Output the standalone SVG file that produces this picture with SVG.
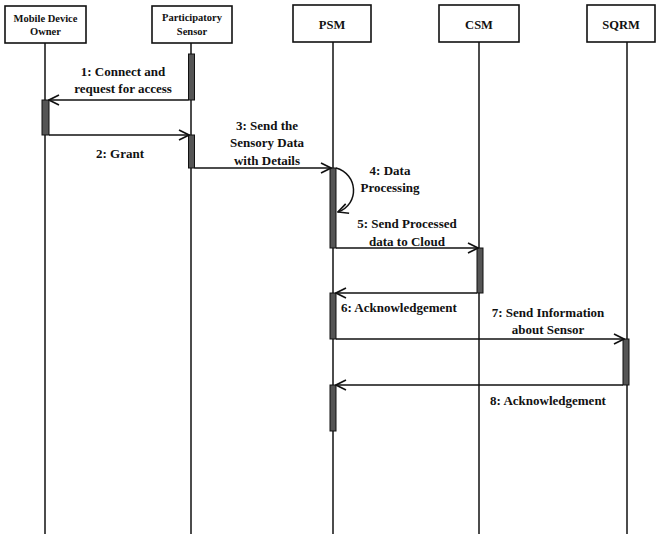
<svg xmlns="http://www.w3.org/2000/svg" width="658" height="534" viewBox="0 0 658 534">
  <defs>
    <marker id="open" viewBox="0 0 12 12" refX="11" refY="6" markerWidth="12" markerHeight="12" markerUnits="userSpaceOnUse" orient="auto">
      <path d="M1,1 L11,6 L1,11" fill="none" stroke="#111" stroke-width="1.6"/>
    </marker>
  </defs>
  <style>
    .box { fill: #fff; stroke: #111; stroke-width: 1.6; }
    .life { stroke: #111; stroke-width: 1.5; fill: none; }
    .bar { fill: #555; stroke: #111; stroke-width: 1; }
    .msg { stroke: #111; stroke-width: 1.5; fill: none; marker-end: url(#open); }
    text { font-family: "Liberation Serif", "Times New Roman", serif; font-weight: bold; fill: #111; }
    .head { font-size: 10.5px; text-anchor: middle; }
    .head2 { font-size: 12.5px; text-anchor: middle; }
    .lbl { font-size: 13px; }
    .c { text-anchor: middle; }
  </style>
  <rect width="658" height="534" fill="#fff"/>

  <!-- lifelines -->
  <g id="lifelines">
    <line class="life" x1="45" y1="43" x2="45" y2="534"/>
    <line class="life" x1="191" y1="43" x2="191" y2="534"/>
    <line class="life" x1="333" y1="42" x2="333" y2="534"/>
    <line class="life" x1="479" y1="42" x2="479" y2="534"/>
    <line class="life" x1="627" y1="42" x2="627" y2="534"/>
  </g>

  <!-- participants -->
  <g id="owner">
    <rect class="box" x="5" y="6" width="81" height="37"/>
    <text class="head" x="45.5" y="22">Mobile Device</text>
    <text class="head" x="45.5" y="35">Owner</text>
  </g>
  <g id="sensor">
    <rect class="box" x="152" y="6" width="80" height="37"/>
    <text class="head" x="192" y="21">Participatory</text>
    <text class="head" x="192" y="35">Sensor</text>
  </g>
  <g id="psm">
    <rect class="box" x="293" y="5" width="78" height="37"/>
    <text class="head2" x="332" y="29">PSM</text>
  </g>
  <g id="csm">
    <rect class="box" x="439" y="5" width="80" height="37"/>
    <text class="head2" x="479" y="29">CSM</text>
  </g>
  <g id="sqrm">
    <rect class="box" x="587" y="5" width="68" height="37"/>
    <text class="head2" x="621" y="29">SQRM</text>
  </g>

  <!-- activation bars -->
  <g id="activations">
    <rect class="bar" x="188.5" y="54" width="6" height="46"/>
    <rect class="bar" x="42" y="100" width="7" height="35"/>
    <rect class="bar" x="188.5" y="135" width="6" height="33"/>
    <rect class="bar" x="330" y="168" width="6" height="80"/>
    <rect class="bar" x="477" y="248" width="6" height="45"/>
    <rect class="bar" x="330" y="293" width="6" height="46"/>
    <rect class="bar" x="623" y="339" width="6" height="46"/>
    <rect class="bar" x="330" y="385" width="6" height="46"/>
  </g>

  <!-- messages -->
  <g id="connectors">
    <line class="msg" x1="188.5" y1="100" x2="49" y2="100"/>
    <line class="msg" x1="49" y1="135" x2="189" y2="135"/>
    <line class="msg" x1="194.5" y1="168" x2="331" y2="168"/>
    <path class="msg" d="M336,168 C358,174 360,204 338,212"/>
    <line class="msg" x1="336" y1="248" x2="478" y2="248"/>
    <line class="msg" x1="477" y1="293" x2="336" y2="293"/>
    <line class="msg" x1="336" y1="339" x2="624" y2="339"/>
    <line class="msg" x1="623" y1="385" x2="336" y2="385"/>
  </g>

  <!-- message labels -->
  <g id="labels">
    <text class="lbl c" x="123" y="76">1: Connect and</text>
    <text class="lbl c" x="123" y="93">request for access</text>
    <text class="lbl c" x="120" y="158">2: Grant</text>
    <text class="lbl c" x="267" y="130">3: Send the</text>
    <text class="lbl c" x="267" y="147">Sensory Data</text>
    <text class="lbl c" x="267" y="165">with Details</text>
    <text class="lbl c" x="390" y="175">4: Data</text>
    <text class="lbl c" x="390" y="192">Processing</text>
    <text class="lbl c" x="407" y="228">5: Send Processed</text>
    <text class="lbl c" x="407" y="246">data to Cloud</text>
    <text class="lbl" x="341" y="312">6: Acknowledgement</text>
    <text class="lbl c" x="548" y="317">7: Send Information</text>
    <text class="lbl c" x="548" y="334">about Sensor</text>
    <text class="lbl c" x="548" y="405">8: Acknowledgement</text>
  </g>
</svg>
